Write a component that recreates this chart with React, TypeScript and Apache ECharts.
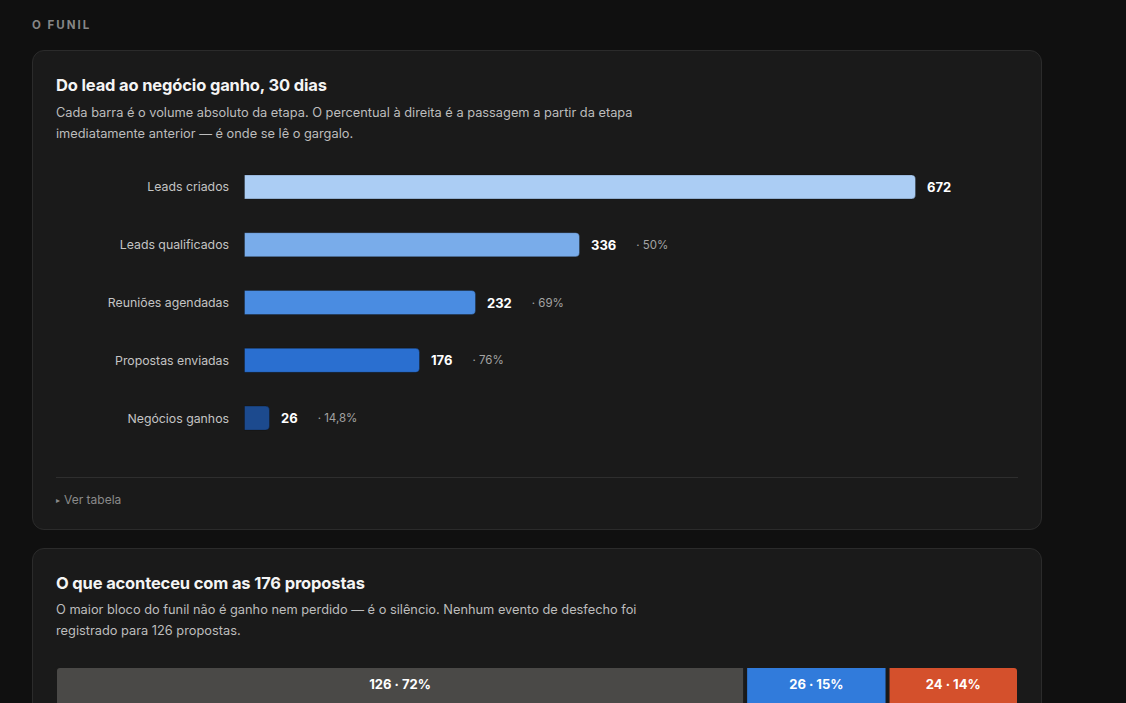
import { useEffect, useRef } from 'react';
import * as echarts from 'echarts';

const FONT = 'Inter, "Noto Sans", sans-serif';

// funil: etapas, volumes e passagem da etapa anterior
const stages = ['Leads criados', 'Leads qualificados', 'Reuniões agendadas', 'Propostas enviadas', 'Negócios ganhos'];
const stageValues = [672, 336, 232, 176, 26];
const stepRates = ['', '50%', '69%', '76%', '14,8%'];
const stageColors = ['#abcdf4', '#79acea', '#4a8ce1', '#2a6fd0', '#1c4a8e'];

// desfecho das propostas
const outcomeNames = ['Sem desfecho', 'Ganhas', 'Perdidas'];
const outcomeValues = [126, 26, 24];
const outcomeShares = ['72%', '15%', '14%'];
const outcomeColors = ['#4a4947', '#317bdb', '#d4502c'];

const card: React.CSSProperties = {
  position: 'absolute',
  left: 32,
  width: 1010,
  boxSizing: 'border-box',
  background: '#1a1a1a',
  border: '1px solid #2b2b2b',
  borderRadius: 12,
};

const title: React.CSSProperties = {
  position: 'absolute',
  left: 23,
  margin: 0,
  fontSize: 16.5,
  letterSpacing: -0.15,
  lineHeight: '22px',
  fontWeight: 700,
  color: '#f4f4f4',
  whiteSpace: 'nowrap',
};

const sub: React.CSSProperties = {
  position: 'absolute',
  left: 23,
  margin: 0,
  fontSize: 12.8,
  lineHeight: '21px',
  color: '#bdbdbd',
  whiteSpace: 'nowrap',
};

export default function App() {
  const funnelRef = useRef<HTMLDivElement>(null);
  const stackRef = useRef<HTMLDivElement>(null);

  useEffect(() => {
    if (!funnelRef.current || !stackRef.current) return;

    const funnel = echarts.init(funnelRef.current, undefined, { renderer: 'svg' });
    funnel.setOption({
      animation: false,
      textStyle: { fontFamily: FONT },
      grid: { left: 188, top: 8, width: 760, height: 289 },
      xAxis: { type: 'value', min: 0, max: 760, show: false },
      yAxis: {
        type: 'category',
        data: stages,
        inverse: true,
        axisLine: { show: false },
        axisTick: { show: false },
        splitLine: { show: false },
        axisLabel: { color: '#c4c4c4', fontSize: 12.3, margin: 15, fontFamily: FONT },
      },
      series: [
        {
          type: 'bar',
          barWidth: 25,
          data: stageValues.map((v, i) => ({ value: v, itemStyle: { color: stageColors[i] } })),
          itemStyle: { borderRadius: [0, 4, 4, 0], borderColor: 'rgba(0,0,0,0.25)', borderWidth: 1 },
          label: {
            show: true,
            position: 'right',
            distance: 11,
            formatter: (p: { value: number; dataIndex: number }) =>
              stepRates[p.dataIndex]
                ? `{v|${p.value}}{p|· ${stepRates[p.dataIndex]}}`
                : `{v|${p.value}}`,
            rich: {
              v: { color: '#ffffff', fontWeight: 'bold', fontSize: 13, fontFamily: FONT },
              p: { color: '#a3a3a3', fontSize: 11.5, fontFamily: FONT, padding: [0, 0, 0, 20] },
            },
          },
        },
      ],
    });

    const total = outcomeValues.reduce((a, b) => a + b, 0);
    const radii = [[4, 0, 0, 4], 0, [0, 4, 4, 0]];
    const stack = echarts.init(stackRef.current, undefined, { renderer: 'svg' });
    stack.setOption({
      animation: false,
      textStyle: { fontFamily: FONT },
      // container is a bit wider than the bar; the border eats ~1px per side
      grid: { left: 5, right: 5, top: 6, height: 44 },
      xAxis: { type: 'value', min: 0, max: total, show: false },
      yAxis: { type: 'category', data: ['propostas'], show: false },
      series: outcomeNames.map((name, i) => ({
        name,
        type: 'bar',
        stack: 'total',
        barWidth: 44,
        data: [outcomeValues[i]],
        itemStyle: {
          color: outcomeColors[i],
          borderRadius: radii[i],
          borderColor: '#1a1a1a',
          borderWidth: 2,
        },
        label: {
          show: true,
          position: 'inside',
          formatter: `${outcomeValues[i]} · ${outcomeShares[i]}`,
          color: '#ffffff',
          fontWeight: 'bold',
          fontSize: 13,
          fontFamily: FONT,
          offset: [0, -4],
        },
      })),
    });

    return () => {
      funnel.dispose();
      stack.dispose();
    };
  }, []);

  return (
    <div
      style={{
        position: 'fixed',
        inset: 0,
        background: '#101010',
        overflow: 'hidden',
        fontFamily: FONT,
      }}
    >
      <div
        style={{
          position: 'absolute',
          left: 32,
          top: 17,
          fontSize: 11.5,
          lineHeight: '16px',
          fontWeight: 700,
          letterSpacing: 2,
          color: '#868686',
        }}
      >
        O FUNIL
      </div>

      <div style={{ ...card, top: 50, height: 480 }}>
        <h2 style={{ ...title, top: 23 }}>Do lead ao negócio ganho, 30 dias</h2>
        <p style={{ ...sub, top: 50.5 }}>
          Cada barra é o volume absoluto da etapa. O percentual à direita é a passagem a partir da etapa
          <br />
          imediatamente anterior — é onde se lê o gargalo.
        </p>
        <div ref={funnelRef} style={{ position: 'absolute', left: 23, top: 99, width: 962, height: 310 }} />
        <div style={{ position: 'absolute', left: 23, top: 426, width: 962, height: 1, background: '#2e2e2e' }} />
        <div
          style={{
            position: 'absolute',
            left: 23,
            top: 441,
            fontSize: 12,
            lineHeight: '16px',
            color: '#8a8a8a',
          }}
        >
          <span style={{ fontSize: 8, marginRight: 4, position: 'relative', top: -1 }}>▸</span>Ver tabela
        </div>
      </div>

      <div style={{ ...card, top: 548, height: 220 }}>
        <h2 style={{ ...title, top: 23 }}>O que aconteceu com as 176 propostas</h2>
        <p style={{ ...sub, top: 49.5 }}>
          O maior bloco do funil não é ganho nem perdido — é o silêncio. Nenhum evento de desfecho foi
          <br />
          registrado para 126 propostas.
        </p>
        <div ref={stackRef} style={{ position: 'absolute', left: 17, top: 111, width: 974, height: 60 }} />
      </div>
    </div>
  );
}
